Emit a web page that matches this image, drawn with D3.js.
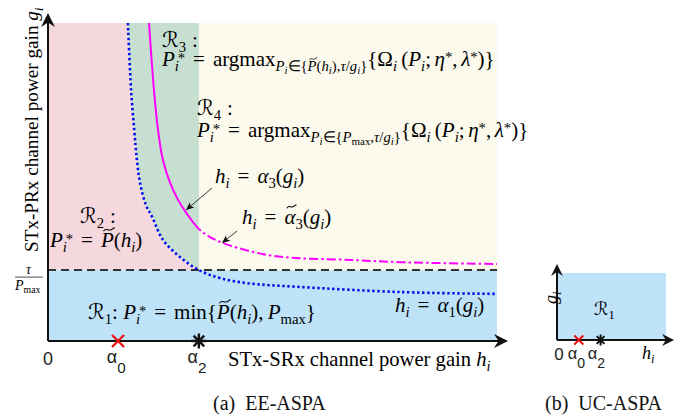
<!DOCTYPE html>
<html><head><meta charset="utf-8">
<script src="https://cdn.jsdelivr.net/npm/d3@7"></script>
<style>
html,body{margin:0;padding:0;background:#fff;}
svg{display:block;}
</style>
</head><body>
<svg id="chart" width="694" height="420"></svg>
<script>
// ---------------- DATA ----------------
const hDomain = [0, 100];           // STx-SRx channel power gain (arbitrary units)
const gDomain = [0, 100];           // STx-PRx channel power gain (arbitrary units)
const alpha0 = 15.6;
const alpha2 = 33.6;
const gThreshold = 22.3;            // tau / P_max
// boundary h_i = alpha_1(g_i)  [h, g]
const alpha1Curve = [[17.8,100],[18.5,78.9],[19.2,66.4],[19.8,56.9],[20.5,49.7],[21.8,42.8],[23.2,39.0],[25.6,31.8],[29.4,26.4],[33.6,22.3],[38.3,19.8],[44.3,18.2],[56.1,17.0],[78.4,15.4],[100,14.8]];
// boundary h_i = alpha_3(g_i) for h <= alpha2 (solid) and h_i = alpha~_3(g_i) for h >= alpha2 (dash-dot)
const alpha3Curve = [[22.5,100],[23.6,78.9],[24.5,66.4],[25.6,56.9],[27.2,49.7],[29.0,44.3],[31.0,39.9],[33.6,35.2]];
const alpha3TildeCurve = [[36.1,32.7],[39.0,30.8],[45.7,28.0],[52.3,26.4],[67.3,25.5],[78.4,24.8],[100,24.2]];
// inset (b)
const insetDomain = [0, 100];
const insetAlpha0 = 20;
const insetAlpha2 = 40;

// ---------------- SETUP ----------------
const svg = d3.select('#chart');
const SERIF = '"Liberation Serif","Times New Roman",serif';
const SANS = '"Liberation Sans",Arial,Helvetica,sans-serif';
const x = d3.scaleLinear().domain(hDomain).range([48, 497]);
const y = d3.scaleLinear().domain(gDomain).range([341, 23]);

const colPink = 'rgb(245,215,222)', colGreen = 'rgb(198,223,208)', colCream = 'rgb(252,250,237)', colBlue = 'rgb(190,227,249)';

const curveLine = d3.line().x(d => x(d[0])).y(d => y(d[1])).curve(d3.curveCatmullRom.alpha(0.5));

const a1Upper = alpha1Curve.filter(d => d[1] >= gThreshold);
// regions
svg.append('rect').attr('x', x(0)).attr('y', y(gThreshold)).attr('width', x(hDomain[1]) - x(0)).attr('height', y(0) - y(gThreshold)).attr('fill', colBlue);
svg.append('rect').attr('x', x(alpha2)).attr('y', y(gDomain[1])).attr('width', x(hDomain[1]) - x(alpha2)).attr('height', y(gThreshold) - y(gDomain[1])).attr('fill', colCream);
svg.append('path').attr('fill', colPink)
  .attr('d', curveLine(a1Upper) + `L${x(0)},${y(gThreshold)}L${x(0)},${y(gDomain[1])}Z`);
svg.append('path').attr('fill', colGreen)
  .attr('d', curveLine(a1Upper) + `L${x(alpha2)},${y(gDomain[1])}Z`);

// clip paths splitting at alpha2
const defs = svg.append('defs');
defs.append('clipPath').attr('id', 'leftClip').append('rect').attr('x', 0).attr('y', 0).attr('width', x(alpha2)).attr('height', 420);
defs.append('clipPath').attr('id', 'rightClip').append('rect').attr('x', x(alpha2)).attr('y', 0).attr('width', 694).attr('height', 420);

// threshold dashed line
svg.append('line').attr('x1', x(0)).attr('x2', x(hDomain[1])).attr('y1', y(gThreshold)).attr('y2', y(gThreshold))
  .attr('stroke', '#333').attr('stroke-width', 2).attr('stroke-dasharray', '8,5');
// curves
svg.append('path').attr('d', curveLine(alpha1Curve)).attr('fill', 'none').attr('stroke', '#0010e8').attr('stroke-width', 2.6).attr('stroke-dasharray', '2.4,2.6');
const magenta = alpha3Curve.concat(alpha3TildeCurve);
svg.append('path').attr('d', curveLine(magenta)).attr('clip-path', 'url(#leftClip)').attr('fill', 'none').attr('stroke', '#ff00ff').attr('stroke-width', 2);
svg.append('path').attr('d', curveLine(magenta)).attr('clip-path', 'url(#rightClip)').attr('fill', 'none').attr('stroke', '#ff00ff').attr('stroke-width', 2).attr('stroke-dasharray', '9,3,2.5,3');

// axes with arrowheads
function arrowHead(px, py, dir, s) {
  const rot = dir === 'right' ? 0 : -90;
  svg.append('path').attr('transform', `translate(${px},${py}) rotate(${rot}) scale(${s})`)
    .attr('d', 'M0,0 L-14,-7 L-9.5,0 L-14,7 Z').attr('fill', '#111');
}
svg.append('line').attr('x1', x(0)).attr('x2', 500).attr('y1', y(0)).attr('y2', y(0)).attr('stroke', '#111').attr('stroke-width', 2);
svg.append('line').attr('x1', x(0)).attr('x2', x(0)).attr('y1', y(0)).attr('y2', 20).attr('stroke', '#111').attr('stroke-width', 2);
arrowHead(508, y(0), 'right', 1);
arrowHead(x(0), 13, 'up', 1);

// ---------------- MATH TEXT HELPER ----------------
function I(t, o) { return Object.assign({ t, i: 1 }, o); }
function Rm(t, o) { return Object.assign({ t }, o); }
function sp(n) { return { sp: n }; }
function mathText(parent, px, py, tokens, size, opts) {
  opts = opts || {};
  const g = parent.append('g').attr('transform', `translate(${px},${py})${opts.rotate ? ' rotate(' + opts.rotate + ')' : ''}`);
  let cx = 0, lastX = 0;
  tokens.forEach(tok => {
    if (tok.sp !== undefined) { cx += tok.sp * size; return; }
    const lv = tok.lv || 0;
    const fs = lv === 0 ? size : (Math.abs(lv) === 1 ? size * 0.7 : size * 0.52);
    const dy = lv === 0 ? 0 : lv === -1 ? size * 0.24 : lv === 1 ? -size * 0.42 : size * 0.40;
    const tx = (tok.stack ? lastX : cx) + (tok.dx || 0) * size;
    const t = g.append('text').attr('x', tx).attr('y', dy + (tok.dy || 0) * size)
      .attr('font-size', fs).attr('font-style', tok.i ? 'italic' : 'normal')
      .attr('font-family', tok.f || SERIF).attr('fill', tok.c || '#000').text(tok.t);
    const w = t.node().getComputedTextLength();
    if (tok.tilde) {
      const ty = dy - fs * 0.82, x0 = tx + fs * 0.12, x1 = tx + w + fs * 0.05, h = fs * 0.07;
      const wm = (x1 - x0);
      g.append('path').attr('d', `M${x0},${ty + h} C${x0 + wm * 0.25},${ty - 2.2 * h} ${x0 + wm * 0.5},${ty + 2.2 * h} ${x1 - wm * 0.15},${ty - h} L${x1},${ty - 1.3 * h}`)
        .attr('fill', 'none').attr('stroke', '#000').attr('stroke-width', Math.max(0.8, fs * 0.05));
    }
    lastX = tx;
    cx = Math.max(cx, tx + w);
  });
  return cx;
}
const CAL = '"DejaVu Serif","DejaVu Sans",serif';
const S = 21;
const EQ = [sp(0.38), Rm('='), sp(0.38)];
const Pstar = [I('P'), I('i', { lv: -1 }), Rm('*', { lv: 1, stack: 1, dx: 0.14, dy: 0.26 }), ...EQ];
const Omega = [Rm('{Ω'), I('i', { lv: -1 }), sp(0.2), Rm('('), I('P'), I('i', { lv: -1 }), Rm(';'), sp(0.17), I('η'), Rm('*', { lv: 1, dy: 0.22 }), Rm(','), sp(0.17), I('λ'), Rm('*', { lv: 1, dy: 0.22 }), Rm(')}')];

// R3
mathText(svg, 162, 47, [Rm('ℛ', { f: CAL, i: 1 }), Rm('3', { lv: -1 }), sp(0.28), Rm(':')], S);
mathText(svg, 162, 66, [...Pstar, Rm('argmax'), I('P', { lv: -1 }), I('i', { lv: -2 }), Rm('∈{', { lv: -1 }), I('P', { lv: -1, tilde: 1 }), Rm('(', { lv: -1 }), I('h', { lv: -1 }), I('i', { lv: -2 }), Rm('),', { lv: -1 }), I('τ', { lv: -1 }), Rm('/', { lv: -1 }), I('g', { lv: -1 }), I('i', { lv: -2 }), Rm('}', { lv: -1 }), ...Omega], S);
// R4
mathText(svg, 197, 115, [Rm('ℛ', { f: CAL, i: 1 }), Rm('4', { lv: -1 }), sp(0.28), Rm(':')], S);
mathText(svg, 197, 137, [...Pstar, Rm('argmax'), I('P', { lv: -1 }), I('i', { lv: -2 }), Rm('∈{', { lv: -1 }), I('P', { lv: -1 }), Rm('max', { lv: -2 }), Rm(',', { lv: -1 }), I('τ', { lv: -1 }), Rm('/', { lv: -1 }), I('g', { lv: -1 }), I('i', { lv: -2 }), Rm('}', { lv: -1 }), ...Omega], S);
// alpha3 labels
mathText(svg, 215, 183, [I('h'), I('i', { lv: -1 }), ...EQ, I('α'), Rm('3', { lv: -1 }), Rm('('), I('g'), I('i', { lv: -1 }), Rm(')')], S);
mathText(svg, 242, 224, [I('h'), I('i', { lv: -1 }), ...EQ, I('α', { tilde: 1 }), Rm('3', { lv: -1 }), Rm('('), I('g'), I('i', { lv: -1 }), Rm(')')], S);
// R2
mathText(svg, 80, 223, [Rm('ℛ', { f: CAL, i: 1 }), Rm('2', { lv: -1 }), sp(0.28), Rm(':')], S);
mathText(svg, 50, 247, [...Pstar, I('P', { tilde: 1 }), Rm('('), I('h'), I('i', { lv: -1 }), Rm(')')], S);
// R1
mathText(svg, 88, 319, [Rm('ℛ', { f: CAL, i: 1 }), Rm('1', { lv: -1 }), Rm(':'), sp(0.25), ...Pstar, Rm('min{'), I('P', { tilde: 1 }), Rm('('), I('h'), I('i', { lv: -1 }), Rm('),'), sp(0.2), I('P'), Rm('max', { lv: -1 }), Rm('}')], S);
// alpha1 label
mathText(svg, 395, 312, [I('h'), I('i', { lv: -1 }), ...EQ, I('α'), Rm('1', { lv: -1 }), Rm('('), I('g'), I('i', { lv: -1 }), Rm(')')], S);

// annotation arrows
function annArrow(x1, y1, x2, y2) {
  svg.append('line').attr('x1', x1).attr('y1', y1).attr('x2', x2).attr('y2', y2).attr('stroke', '#222').attr('stroke-width', 0.9);
  const ang = Math.atan2(y2 - y1, x2 - x1) * 180 / Math.PI;
  svg.append('path').attr('transform', `translate(${x2},${y2}) rotate(${ang})`).attr('d', 'M0,0 L-8,-3.5 L-6,0 L-8,3.5 Z').attr('fill', '#111');
}
annArrow(212, 188, 186, 210);
annArrow(237, 231, 222, 243);

// axis labels
mathText(svg, 228, 366, [Rm('STx-SRx channel power gain'), sp(0.25), I('h'), I('i', { lv: -1 })], 20.6);
mathText(svg, 38, 252, [Rm('STx-PRx channel power gain'), sp(0.25), I('g'), I('i', { lv: -1 })], 19.2, { rotate: -90 });

// tick labels
svg.append('text').attr('x', x(0)).attr('y', 365).attr('text-anchor', 'middle').attr('font-family', SANS).attr('font-size', 18).attr('fill', '#222').text('0');
function alphaTick(px, sub, base, fs) {
  svg.append('text').attr('x', px - fs * 0.05).attr('y', base).attr('text-anchor', 'end').attr('font-family', SANS).attr('font-size', fs).attr('fill', '#222').text('α');
  svg.append('text').attr('x', px - fs * 0.05).attr('y', base + fs * 0.55).attr('text-anchor', 'start').attr('font-family', SANS).attr('font-size', fs * 0.85).attr('fill', '#222').text(sub);
}
alphaTick(x(alpha0), '0', 363, 18);
alphaTick(x(alpha2), '2', 363, 18);
// tau / Pmax fraction
const fy = y(gThreshold) + 7;
svg.append('line').attr('x1', 15).attr('x2', 43).attr('y1', fy).attr('y2', fy).attr('stroke', '#222').attr('stroke-width', 0.8);
mathText(svg, 26, fy - 3, [I('τ')], 14);
mathText(svg, 15, fy + 13, [I('P'), Rm('max', { lv: -1 })], 14);

// markers
function crossMark(cx, cy, s, w) {
  svg.append('path').attr('d', `M${cx - s},${cy - s}L${cx + s},${cy + s}M${cx - s},${cy + s}L${cx + s},${cy - s}`).attr('stroke', '#ee1111').attr('stroke-width', w).attr('fill', 'none');
}
function starMark(cx, cy, s, w) {
  let d = '';
  for (let k = 0; k < 4; k++) {
    const a = k * Math.PI / 4;
    d += `M${cx - s * Math.cos(a)},${cy - s * Math.sin(a)}L${cx + s * Math.cos(a)},${cy + s * Math.sin(a)}`;
  }
  svg.append('path').attr('d', d).attr('stroke', '#111').attr('stroke-width', w).attr('fill', 'none');
}
crossMark(x(alpha0), y(0), 6, 2.4);
starMark(x(alpha2), y(0), 7.5, 2.4);

// captions
svg.append('text').attr('x', 213).attr('y', 410).attr('font-family', SERIF).attr('font-size', 20).attr('fill', '#111').style('white-space', 'pre').text('(a)  EE-ASPA');
svg.append('text').attr('x', 545).attr('y', 410).attr('font-family', SERIF).attr('font-size', 20).attr('fill', '#111').style('white-space', 'pre').text('(b)  UC-ASPA');

// ---------------- INSET (b) ----------------
const xi = d3.scaleLinear().domain(insetDomain).range([557, 666]);
const yi = d3.scaleLinear().domain(insetDomain).range([340, 273]);
svg.append('rect').attr('x', xi(0)).attr('y', yi(100)).attr('width', xi(100) - xi(0)).attr('height', yi(0) - yi(100)).attr('fill', colBlue);
svg.append('line').attr('x1', xi(0)).attr('x2', 668).attr('y1', yi(0)).attr('y2', yi(0)).attr('stroke', '#111').attr('stroke-width', 2);
svg.append('line').attr('x1', xi(0)).attr('x2', xi(0)).attr('y1', yi(0)).attr('y2', 270).attr('stroke', '#111').attr('stroke-width', 2);
arrowHead(674, yi(0), 'right', 0.85);
arrowHead(xi(0), 264, 'up', 0.85);
crossMark(xi(insetAlpha0), yi(0), 4.5, 2);
starMark(xi(insetAlpha2), yi(0), 5.5, 2);
svg.append('text').attr('x', xi(0) + 2).attr('y', 360).attr('text-anchor', 'middle').attr('font-family', SANS).attr('font-size', 17).attr('fill', '#222').text('0');
alphaTick(578, '0', 359, 16.5);
alphaTick(598, '2', 359, 16.5);
mathText(svg, 642, 359, [I('h'), I('i', { lv: -1 })], 18);
mathText(svg, 557, 304, [I('g'), I('i', { lv: -1 })], 18, { rotate: -90 });
mathText(svg, 594, 315, [Rm('ℛ', { f: CAL, i: 1 }), Rm('1', { lv: -1 })], 18);
</script>
</body></html>
